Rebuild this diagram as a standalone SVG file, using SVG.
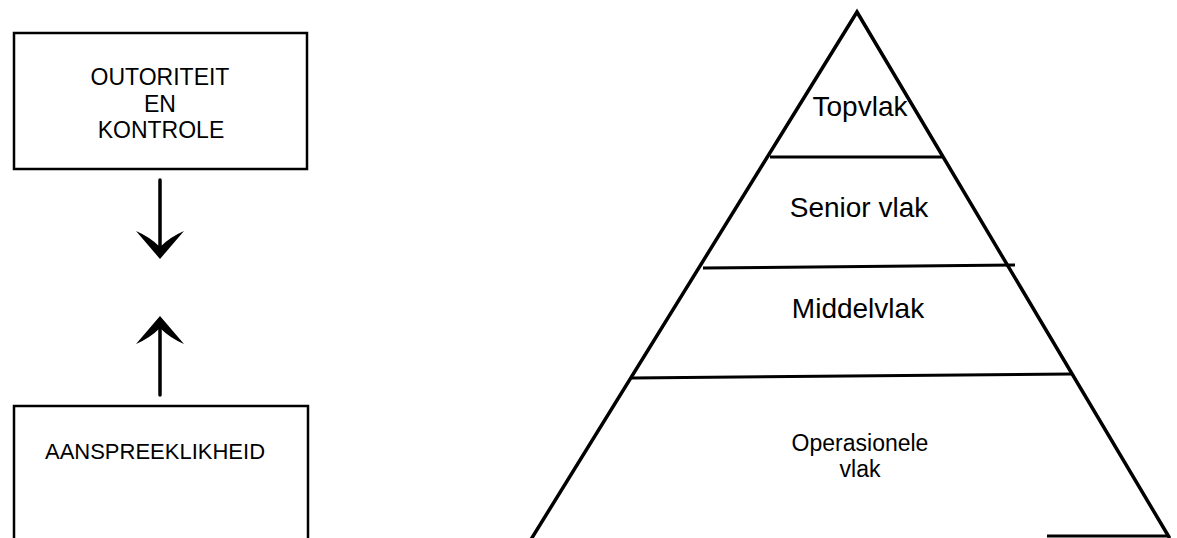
<svg xmlns="http://www.w3.org/2000/svg" width="1177" height="538" viewBox="0 0 1177 538">
<style>
.box{fill:none;stroke:#000;stroke-width:2.5}
.ln{fill:none;stroke:#000;stroke-width:3.5;stroke-linecap:round}
.hl{fill:none;stroke:#000;stroke-width:3}
.t{font-family:"Liberation Sans",Arial,sans-serif;fill:#000;text-anchor:middle}
.head{fill:#000;stroke:none}
</style>
<rect width="1177" height="538" fill="#fff"/>
<g id="box-outoriteit">
<rect class="box" x="14" y="33" width="293" height="136"/>
<text class="t" x="160" y="85" font-size="23">OUTORITEIT</text>
<text class="t" x="160" y="112" font-size="23">EN</text>
<text class="t" x="161" y="138" font-size="23">KONTROLE</text>
</g>
<g id="box-aanspreeklikheid">
<rect class="box" x="14" y="406" width="294" height="140"/>
<text class="t" x="155" y="459" font-size="22">AANSPREEKLIKHEID</text>
</g>
<g id="connectors">
<line class="ln" x1="160" y1="180" x2="160" y2="250"/>
<path class="head" d="M160,259 L136,231 Q150,237 160,247 Q170,237 184,231 Z"/>
<line class="ln" x1="160" y1="325" x2="160" y2="395"/>
<path class="head" d="M160,316 L136,344 Q150,338 160,328 Q170,338 184,344 Z"/>
</g>
<g id="pyramid">
<path class="ln" d="M530,541 L857,12 L1169,537"/>
<line class="hl" x1="770" y1="157" x2="942" y2="157"/>
<line class="hl" x1="703" y1="268" x2="1015" y2="265"/>
<line class="hl" x1="632" y1="378" x2="1072" y2="374"/>
<line class="hl" x1="1047" y1="536" x2="1168" y2="536"/>
</g>
<g id="level-top"><text class="t" x="860" y="116" font-size="28">Topvlak</text></g>
<g id="level-senior"><text class="t" x="859" y="217" font-size="28">Senior vlak</text></g>
<g id="level-middel"><text class="t" x="858" y="318" font-size="28">Middelvlak</text></g>
<g id="level-operasioneel">
<text class="t" x="860" y="451" font-size="23">Operasionele</text>
<text class="t" x="860" y="477" font-size="23">vlak</text>
</g>
</svg>
